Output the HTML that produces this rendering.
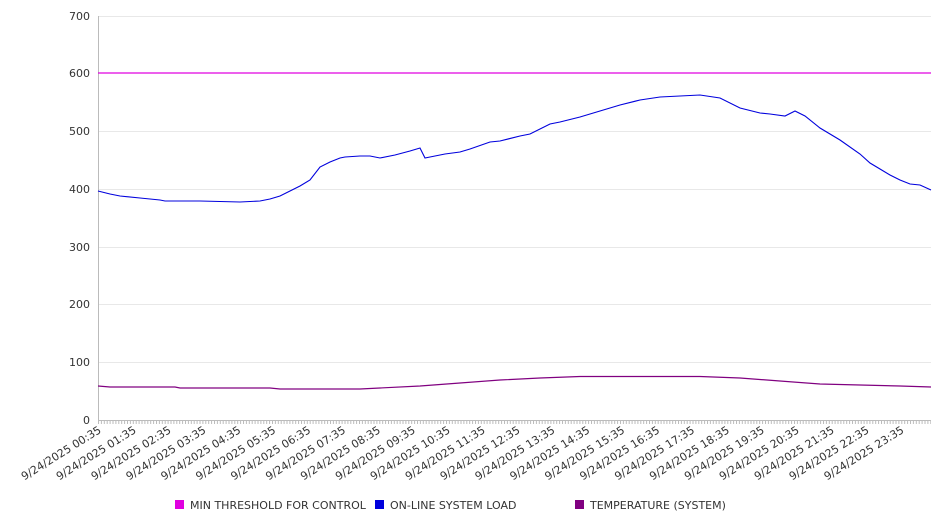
<!DOCTYPE html>
<html><head><style>body{margin:0;background:#fff}svg{display:block;font-family:"DejaVu Sans","Liberation Sans",sans-serif}</style></head><body>
<svg width="946" height="526" viewBox="0 0 946 526">
<defs><pattern id="tp" x="98" y="420" width="2.9" height="4" patternUnits="userSpaceOnUse"><rect x="0" y="0" width="1" height="4" fill="#bbb"/></pattern></defs>
<g stroke="#e8e8e8" stroke-width="1">
<line x1="98" y1="16.5" x2="931" y2="16.5"/><line x1="98" y1="131.5" x2="931" y2="131.5"/><line x1="98" y1="189.5" x2="931" y2="189.5"/><line x1="98" y1="247.5" x2="931" y2="247.5"/><line x1="98" y1="304.5" x2="931" y2="304.5"/><line x1="98" y1="362.5" x2="931" y2="362.5"/>
</g>
<line x1="98.5" y1="16" x2="98.5" y2="420" stroke="#bbb"/>
<line x1="98" y1="420.5" x2="931" y2="420.5" stroke="#bbb"/>
<rect x="98" y="420" width="833" height="4" fill="url(#tp)"/>
<g font-size="11" fill="#333" text-anchor="end">
<text x="90" y="20">700</text><text x="90" y="77">600</text><text x="90" y="135">500</text><text x="90" y="193">400</text><text x="90" y="251">300</text><text x="90" y="308">200</text><text x="90" y="366">100</text><text x="90" y="424">0</text>
</g>
<g font-size="11" fill="#333" text-anchor="end">
<text transform="translate(102,432) rotate(-32)">9/24/2025 00:35</text>
<text transform="translate(136.9,432) rotate(-32)">9/24/2025 01:35</text>
<text transform="translate(171.8,432) rotate(-32)">9/24/2025 02:35</text>
<text transform="translate(206.7,432) rotate(-32)">9/24/2025 03:35</text>
<text transform="translate(241.6,432) rotate(-32)">9/24/2025 04:35</text>
<text transform="translate(276.5,432) rotate(-32)">9/24/2025 05:35</text>
<text transform="translate(311.4,432) rotate(-32)">9/24/2025 06:35</text>
<text transform="translate(346.3,432) rotate(-32)">9/24/2025 07:35</text>
<text transform="translate(381.2,432) rotate(-32)">9/24/2025 08:35</text>
<text transform="translate(416.1,432) rotate(-32)">9/24/2025 09:35</text>
<text transform="translate(451,432) rotate(-32)">9/24/2025 10:35</text>
<text transform="translate(485.9,432) rotate(-32)">9/24/2025 11:35</text>
<text transform="translate(520.8,432) rotate(-32)">9/24/2025 12:35</text>
<text transform="translate(555.7,432) rotate(-32)">9/24/2025 13:35</text>
<text transform="translate(590.6,432) rotate(-32)">9/24/2025 14:35</text>
<text transform="translate(625.5,432) rotate(-32)">9/24/2025 15:35</text>
<text transform="translate(660.4,432) rotate(-32)">9/24/2025 16:35</text>
<text transform="translate(695.3,432) rotate(-32)">9/24/2025 17:35</text>
<text transform="translate(730.2,432) rotate(-32)">9/24/2025 18:35</text>
<text transform="translate(765.1,432) rotate(-32)">9/24/2025 19:35</text>
<text transform="translate(800,432) rotate(-32)">9/24/2025 20:35</text>
<text transform="translate(834.9,432) rotate(-32)">9/24/2025 21:35</text>
<text transform="translate(869.8,432) rotate(-32)">9/24/2025 22:35</text>
<text transform="translate(904.7,432) rotate(-32)">9/24/2025 23:35</text>
</g>
<line x1="98" y1="73" x2="931" y2="73" stroke="#e000e0" stroke-width="1.2"/>
<polyline fill="none" stroke="#0000dd" stroke-width="1.1" points="98,191 110,194 120,196 140,198 160,200 165,201 200,201 240,202 260,201 270,199 280,196 290,191 300,186 310,180 320,167 330,162 340,158 345,157 360,156 370,156 380,158 395,155 410,151 420,148 425,158 430,157 435,156 445,154 460,152 470,149 490,142 500,141 520,136 530,134 550,124 560,122 580,117 600,111 620,105 640,100 660,97 680,96 700,95 720,98 740,108 760,113 770,114 785,116 795,111 805,116 820,128 840,140 860,154 870,163 880,169 890,175 900,180 910,184 920,185 931,190"/>
<polyline fill="none" stroke="#800080" stroke-width="1.2" points="98,386 110,387 175,387 180,388 270,388 280,389 360,389 380,388 420,386 460,383 500,380 540,378 580,376.5 700,376.5 740,378 780,381 820,384 860,385 900,386 931,387"/>
<g font-size="11" fill="#333">
<rect x="175" y="500" width="9" height="9" fill="#e000e0"/><text x="190" y="509">MIN THRESHOLD FOR CONTROL</text>
<rect x="375" y="500" width="9" height="9" fill="#0000dd"/><text x="390" y="509">ON-LINE SYSTEM LOAD</text>
<rect x="575" y="500" width="9" height="9" fill="#800080"/><text x="590" y="509">TEMPERATURE (SYSTEM)</text>
</g>
</svg>
</body></html>
